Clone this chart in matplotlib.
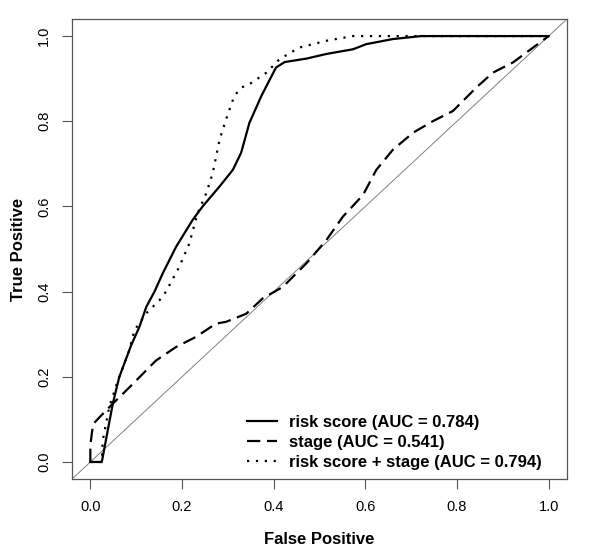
import matplotlib
matplotlib.use("Agg")
import matplotlib.pyplot as plt

plt.rcParams['font.family'] = ['Liberation Sans', 'DejaVu Sans']

# risk score ROC
risk_fpr = [0.0, 0.025, 0.049, 0.063, 0.089, 0.107, 0.122, 0.140, 0.158, 0.187, 0.223, 0.245,
            0.282, 0.311, 0.329, 0.347, 0.373, 0.405, 0.424, 0.471, 0.515, 0.573, 0.602, 0.660,
            0.722, 1.0]
risk_tpr = [0.0, 0.0, 0.137, 0.199, 0.274, 0.317, 0.364, 0.400, 0.443, 0.505, 0.568, 0.600,
            0.647, 0.686, 0.726, 0.796, 0.859, 0.926, 0.939, 0.947, 0.958, 0.969, 0.981, 0.993,
            1.0, 1.0]

# stage ROC
stage_fpr = [0.0, 0.0, 0.006, 0.020, 0.049, 0.085, 0.143, 0.187, 0.231, 0.274, 0.296, 0.340,
             0.376, 0.420, 0.471, 0.515, 0.551, 0.595, 0.624, 0.660, 0.704, 0.747, 0.791, 0.842,
             0.878, 0.922, 0.966, 1.0]
stage_tpr = [0.0, 0.04, 0.089, 0.105, 0.137, 0.175, 0.238, 0.270, 0.294, 0.325, 0.329, 0.348,
             0.384, 0.411, 0.466, 0.521, 0.576, 0.627, 0.686, 0.733, 0.773, 0.800, 0.824, 0.879,
             0.914, 0.938, 0.973, 1.0]

# risk score + stage ROC
combo_fpr = [0.0, 0.025, 0.027, 0.041, 0.060, 0.085, 0.096, 0.122, 0.151, 0.165, 0.194, 0.216,
             0.234, 0.253, 0.267, 0.282, 0.296, 0.314, 0.329, 0.347, 0.384, 0.413, 0.456, 0.515,
             0.573, 1.0]
combo_tpr = [0.0, 0.0, 0.050, 0.128, 0.191, 0.262, 0.309, 0.349, 0.380, 0.400, 0.458, 0.513,
             0.584, 0.631, 0.678, 0.757, 0.804, 0.859, 0.879, 0.887, 0.914, 0.946, 0.973, 0.989,
             1.0, 1.0]

labels = ["risk score (AUC = 0.784)", "stage (AUC = 0.541)", "risk score + stage (AUC = 0.794)"]
ticks = [0.0, 0.2, 0.4, 0.6, 0.8, 1.0]
tick_labels = ["0.0", "0.2", "0.4", "0.6", "0.8", "1.0"]

fig = plt.figure(figsize=(6, 5.6), dpi=100)
ax = fig.add_axes([0.12, 0.1446, 0.825, 0.8214])

ax.plot([-0.1, 1.1], [-0.1, 1.1], color='#808080', lw=0.7)
ax.plot(risk_fpr, risk_tpr, color='black', lw=1.6, linestyle='-', label=labels[0])
ax.plot(stage_fpr, stage_tpr, color='black', lw=1.6, linestyle=(0, (6, 3)), label=labels[1])
ax.plot(combo_fpr, combo_tpr, color='black', lw=1.6, linestyle=(0, (1, 3)), label=labels[2])

ax.set_xlim(-0.04, 1.04)
ax.set_ylim(-0.04, 1.04)
ax.set_xticks(ticks)
ax.set_xticklabels(tick_labels)
ax.set_yticks(ticks)
ax.set_yticklabels(tick_labels, rotation=90, va='center')
ax.tick_params(direction='out', length=7, width=0.8, colors='#555555', labelcolor='black',
               labelsize=10.5, pad=8)
for s in ax.spines.values():
    s.set_color('#555555')
    s.set_linewidth(0.9)

ax.set_xlabel("False Positive", fontsize=12, fontweight='bold', labelpad=13)
ax.set_ylabel("True Positive", fontsize=12, fontweight='bold', labelpad=8)

leg = ax.legend(loc='lower left', bbox_to_anchor=(0.326, -0.01), frameon=False,
                prop={'weight': 'bold', 'size': 12}, handlelength=1.8,
                handletextpad=0.75, labelspacing=0.3, borderpad=0.3)

fig.savefig("out.png", dpi=100)
